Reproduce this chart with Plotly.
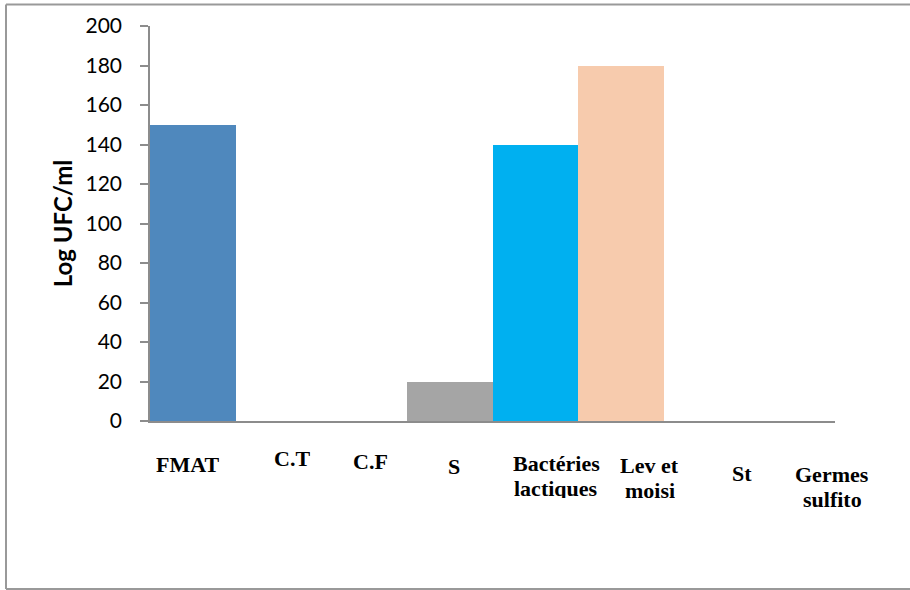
import plotly.graph_objects as go

# Microbial counts per group
categories = ["FMAT", "C.T", "C.F", "S", "Bactéries<br>lactiques", "Lev et<br>moisi", "St", "Germes<br>sulfito"]
counts = [150, 0, 0, 20, 140, 180, 0, 0]
bar_colors = ["#4F88BD", "#4F88BD", "#4F88BD", "#A5A5A5", "#00B0F0", "#F7CBAD", "#A5A5A5", "#A5A5A5"]
y_ticks = [0, 20, 40, 60, 80, 100, 120, 140, 160, 180, 200]

# Layout geometry (pixels)
W, H = 910, 590
L, R, T, B = 150, 75, 26, 169
plot_w, plot_h = W - L - R, H - T - B

# Per-label placement: horizontal shift from category centre, and first-line cap centre (px from top)
label_dx = [-5, 14, 6, 4.5, 21, 29, 35.5, 40]
label_y = [463.7, 457.5, 461, 466, 462.5, 465.3, 473, 474]
line_gap = 25

def px_to_paper_y(py):
    return (H - B - py) / plot_h

def px_to_paper_x(px):
    return (px - L) / plot_w

fig = go.Figure(
    go.Bar(
        x=categories,
        y=counts,
        marker=dict(color=bar_colors, line=dict(width=0)),
        hoverinfo="x+y",
    )
)

annotations = []
for cat, dx, yc in zip(categories, label_dx, label_y):
    for i, line in enumerate(cat.split("<br>")):
        annotations.append(dict(
            x=cat, xref="x", xshift=dx,
            y=px_to_paper_y(yc + i * line_gap), yref="paper",
            text=line, showarrow=False,
            xanchor="center", yanchor="middle", height=20, valign="middle",
            font=dict(family="Liberation Serif", size=22, color="black", weight="bold"),
        ))

axis_grey = "#8C8C8C"
frame_x0, frame_x1 = px_to_paper_x(6), px_to_paper_x(914)
frame_y0, frame_y1 = px_to_paper_y(589), px_to_paper_y(4.5)
shapes = [
    dict(type="line", xref="paper", yref="paper", x0=frame_x0, x1=frame_x1, y0=frame_y1, y1=frame_y1,
         line=dict(color="#999999", width=2)),
    dict(type="line", xref="paper", yref="paper", x0=frame_x0, x1=frame_x1, y0=frame_y0, y1=frame_y0,
         line=dict(color="#999999", width=2)),
    dict(type="line", xref="paper", yref="paper", x0=frame_x0, x1=frame_x0, y0=frame_y0, y1=frame_y1,
         line=dict(color="#999999", width=2)),
]

fig.update_layout(
    width=W, height=H,
    margin=dict(l=L, r=R, t=T, b=B, pad=0, autoexpand=False),
    paper_bgcolor="white", plot_bgcolor="white",
    bargap=0,
    showlegend=False,
    annotations=annotations,
    shapes=shapes,
    font=dict(family="Lato", size=21, color="black"),
)
fig.update_xaxes(
    range=[-0.5, len(categories) - 0.5], automargin=False,
    showticklabels=False, ticks="",
    showline=True, linecolor=axis_grey, linewidth=1.5,
    showgrid=False, zeroline=False,
)
fig.update_yaxes(
    range=[0, 200], tickvals=y_ticks, automargin=False,
    ticks="outside", ticklen=8, tickwidth=1.5, tickcolor=axis_grey,
    showline=True, linecolor=axis_grey, linewidth=1.5,
    showgrid=False, zeroline=False,
    ticklabelstandoff=14,
    tickfont=dict(family="Lato", size=21, color="black"),
    title=dict(text="<b>Log UFC/ml</b>", standoff=6,
               font=dict(family="Lato", size=24, color="black")),
)

fig.write_html("out.html")
